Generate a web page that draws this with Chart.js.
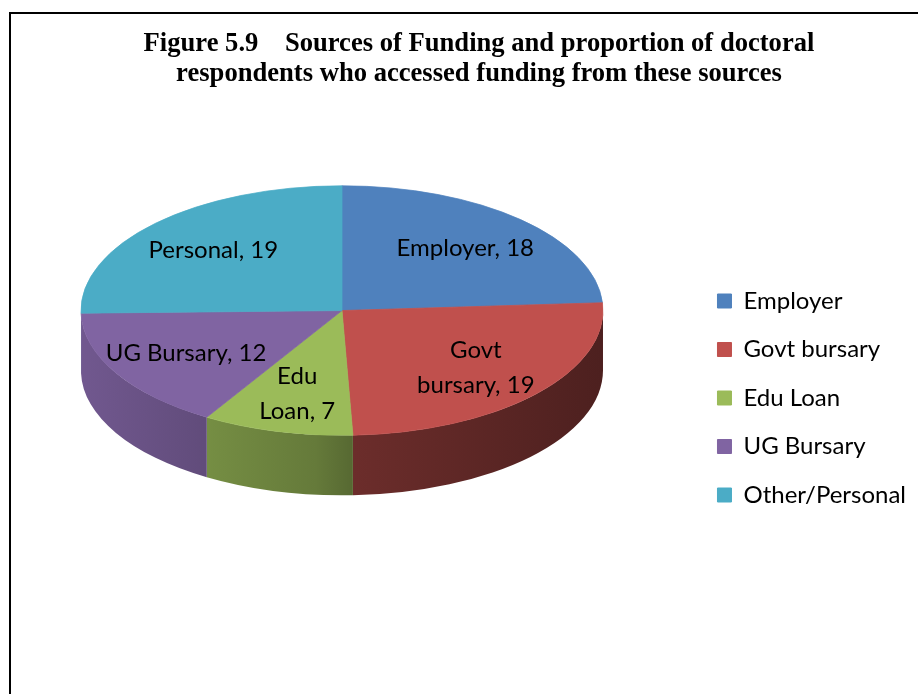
<!DOCTYPE html>
<html>
<head>
<meta charset="utf-8">
<title>Sources of Funding</title>
<script src="https://cdn.jsdelivr.net/npm/chart.js@4.4.1/dist/chart.umd.min.js"></script>
<style>
  html, body { margin: 0; padding: 0; background: #fff; overflow: hidden; }
  #frame { position: absolute; left: 9px; top: 12px; width: 936px; height: 768px; border: 2px solid #000; }
  #pieChart { display: block; }
</style>
</head>
<body>
<div id="frame"><canvas id="pieChart" width="936" height="768"></canvas></div>
<script>
const titleLines = [
    'Figure 5.9    Sources of Funding and proportion of doctoral',
    'respondents who accessed funding from these sources'
];
const sources = ['Employer', 'Govt bursary', 'Edu Loan', 'UG Bursary', 'Other/Personal'];
// names shown on the slices ('\n' = line break inside the slice)
const sliceNames = ['Employer', 'Govt\nbursary', 'Edu\nLoan', 'UG Bursary', 'Personal'];
const respondents = [18, 19, 7, 12, 19];
const sliceColors = ['#4F81BD', '#C0504D', '#9BBB59', '#8064A2', '#4BACC6'];

// side wall gets darker from left to right: [gradient stop, brightness]
const wallShade = [[0, 0.88], [0.45, 0.65], [0.52, 0.56], [1, 0.40]];

function shade(hex, f) {
    const n = parseInt(hex.slice(1), 16);
    const r = Math.round(((n >> 16) & 255) * f);
    const g = Math.round(((n >> 8) & 255) * f);
    const b = Math.round((n & 255) * f);
    return `rgb(${r},${g},${b})`;
}

// Draws the pie as a tilted disc: side wall first, then the squashed top face, then the slice labels
const tiltedPie = {
    id: 'tiltedPie',
    beforeDatasetsDraw(chart, args, opts) {
        const ctx = chart.ctx;
        const arcs = chart.getDatasetMeta(0).data;
        const { x, y, outerRadius: r } = arcs[0];
        const cx = x + opts.shiftX;
        const cy = y + opts.shiftY;
        const ry = r * opts.tilt;

        ctx.save();
        arcs.forEach((arc, i) => {
            // only the front half of the wall (angles 0..PI) is visible
            const a0 = Math.max(arc.startAngle, 0);
            const a1 = Math.min(arc.endAngle, Math.PI);
            if (a1 <= a0) return;
            const grad = ctx.createLinearGradient(cx - r, 0, cx + r, 0);
            wallShade.forEach(([stop, f]) => grad.addColorStop(stop, shade(sliceColors[i], f)));
            ctx.beginPath();
            ctx.ellipse(cx, cy, r, ry, 0, a0, a1);
            ctx.ellipse(cx, cy + opts.depth, r, ry, 0, a1, a0, true);
            ctx.closePath();
            ctx.fillStyle = grad;
            ctx.fill();
        });
        ctx.restore();

        // squash the flat pie into the top face
        ctx.save();
        ctx.translate(cx, cy);
        ctx.scale(1, opts.tilt);
        ctx.translate(-x, -y);
    },
    afterDatasetsDraw(chart, args, opts) {
        const ctx = chart.ctx;
        ctx.restore();

        const arcs = chart.getDatasetMeta(0).data;
        const cx = arcs[0].x + opts.shiftX;
        const cy = arcs[0].y + opts.shiftY;

        ctx.save();
        ctx.font = `${opts.fontSize}px ${opts.fontFamily}`;
        ctx.fillStyle = '#000';
        ctx.textAlign = 'center';
        ctx.textBaseline = 'middle';
        arcs.forEach((arc, i) => {
            const mid = (arc.startAngle + arc.endAngle) / 2;
            const rr = arc.outerRadius * opts.labelRadius;
            const lx = cx + rr * Math.cos(mid);
            const ly = cy + rr * opts.tilt * Math.sin(mid);
            const lines = (sliceNames[i] + ', ' + respondents[i]).split('\n');
            lines.forEach((t, k) => {
                ctx.fillText(t, lx, ly + (k - (lines.length - 1) / 2) * opts.lineHeight);
            });
        });
        ctx.restore();
    }
};

const ctx = document.getElementById('pieChart').getContext('2d');
new Chart(ctx, {
    type: 'pie',
    data: {
        labels: sources,
        datasets: [{
            data: respondents,
            backgroundColor: sliceColors,
            borderColor: sliceColors,
            borderWidth: 1,
            clip: false
        }]
    },
    options: {
        responsive: false,
        animation: false,
        devicePixelRatio: 1,
        events: [],
        radius: 261,
        layout: { padding: { left: 31, right: 31 } },
        plugins: {
            title: {
                display: true,
                text: titleLines,
                color: '#000',
                font: { family: 'Liberation Serif', size: 26.6, weight: 'bold', lineHeight: 1.13 },
                padding: { top: 15, bottom: 10 }
            },
            legend: {
                position: 'right',
                labels: {
                    boxWidth: 14,
                    boxHeight: 14,
                    padding: 24.5,
                    color: '#000',
                    font: { family: 'Lato', size: 24 }
                }
            },
            tooltip: { enabled: false },
            tiltedPie: {
                tilt: 0.478,
                depth: 60,
                shiftX: -25.5,
                shiftY: -130,
                labelRadius: 0.69,
                lineHeight: 35,
                fontSize: 24,
                fontFamily: 'Lato'
            }
        }
    },
    plugins: [tiltedPie]
});
</script>
</body>
</html>
